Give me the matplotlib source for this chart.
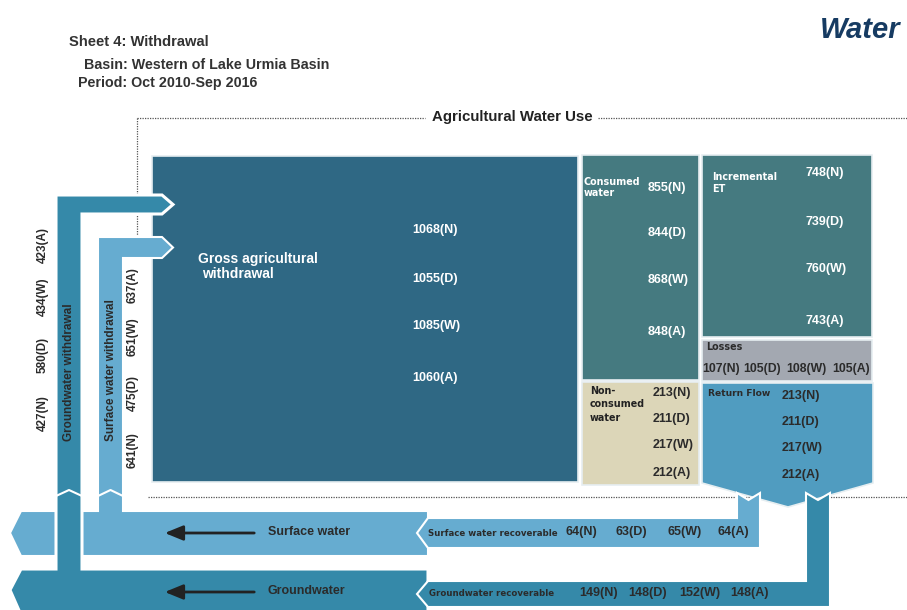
import matplotlib.pyplot as plt
from matplotlib.patches import Polygon, Rectangle

# values per scenario, read from the sheet
scenarios = ['N', 'D', 'W', 'A']
gross_withdrawal = [1068, 1055, 1085, 1060]
groundwater_withdrawal = [427, 580, 434, 423]
surface_withdrawal = [641, 475, 651, 637]
consumed_water = [855, 844, 868, 848]
incremental_et = [748, 739, 760, 743]
losses = [107, 105, 108, 105]
non_consumed_water = [213, 211, 217, 212]
return_flow = [213, 211, 217, 212]
sw_recoverable = [64, 63, 65, 64]
gw_recoverable = [149, 148, 152, 148]

# colours
C_GROSS = '#2f6884'
C_CONS = '#457a80'
C_LOSS = '#a3a8b1'
C_NONC = '#dcd6b8'
C_RET = '#509cc0'
C_SW = '#66acd0'
C_GW = '#3589a9'
C_TXT = '#2b2b2b'
EDGE = '#e6eef1'

FONT = 'Liberation Sans'
SMALL = 'DejaVu Sans'


def labels(vals):
    return [f'{v}({s})' for v, s in zip(vals, scenarios)]


fig = plt.figure(figsize=(9.07, 6.10), dpi=100)
ax = fig.add_axes([0, 0, 1, 1])
ax.set_xlim(0, 907)
ax.set_ylim(610, 0)
ax.axis('off')


def poly(pts, fc, ec='white', lw=1.5, z=2):
    ax.add_patch(Polygon(pts, closed=True, fc=fc, ec=ec, lw=lw, zorder=z,
                         joinstyle='miter'))


def box(x0, y0, x1, y1, fc, z=2):
    ax.add_patch(Rectangle((x0, y0), x1 - x0, y1 - y0, fc=fc, ec=EDGE,
                           lw=1.2, zorder=z))


def txt(x, y, s, size=9, color='white', fam=FONT, **kw):
    ax.text(x, y, s, fontsize=size, color=color, family=fam,
            fontweight='bold', va='center', ha='left', zorder=10, **kw)


# header
txt(69, 42, 'Sheet 4: Withdrawal', 10.6, '#333333')
txt(84, 65, 'Basin: Western of Lake Urmia Basin', 10.3, '#333333')
txt(78, 83, 'Period: Oct 2010-Sep 2016', 10.3, '#333333')
ax.text(820, 30, 'Water', fontsize=21, color='#163b62', family=FONT,
        fontweight='bold', style='italic', va='center', ha='left')

# dotted frame lines
dot = dict(color='#555555', lw=0.9, ls=(0, (1, 1)), zorder=1)
ax.plot([137, 425], [118, 118], **dot)
ax.plot([598, 907], [118, 118], **dot)
ax.plot([137, 137], [118, 237], **dot)
ax.plot([148, 907], [497, 497], **dot)
txt(432, 117, 'Agricultural Water Use', 10.8, '#222222')

# surface water band + withdrawal branch
poly([(10, 533), (21, 511), (98, 511), (98, 237), (162, 237), (173, 247.5),
      (162, 258), (123, 258), (123, 511), (428, 511), (428, 556),
      (21, 556)], C_SW, z=2)
# groundwater band + withdrawal branch
poly([(10, 590), (21, 569), (56, 569), (56, 195), (162, 195), (173, 204.5),
      (162, 214), (82, 214), (82, 569), (428, 569), (428, 615),
      (21, 615)], C_GW, lw=2.2, z=3)
for xl, xr in [(56, 82), (98, 123)]:
    ax.plot([xl, (xl + xr) / 2, xr], [496, 490, 496], color='white', lw=1.5,
            zorder=4)

# main agricultural boxes
box(152, 156, 578, 482, C_GROSS, z=1.5)
box(582, 155, 699, 380, C_CONS)
box(702, 155, 872, 337, C_CONS)
box(702, 340, 872, 381, C_LOSS)
box(582, 382, 699, 485, C_NONC)
poly([(702, 383), (873, 383), (873, 483), (788, 507), (702, 483)], C_RET,
     ec=EDGE, lw=1.2, z=2)

# recoverable return flows
poly([(417, 533), (428, 518), (737, 518), (737, 493), (748.5, 500),
      (760, 493), (760, 548), (428, 548)], C_SW, z=4)
poly([(417, 594), (428, 581), (806, 581), (806, 493), (818, 500),
      (830, 493), (830, 607), (428, 607)], C_GW, z=4)

# flow arrows on bands
for y in (533, 592):
    ax.annotate('', xy=(162, y), xytext=(257, y), zorder=6,
                arrowprops=dict(arrowstyle='-|>,head_length=1.1,head_width=0.45',
                                color='#222222', lw=2))
txt(268, 532, 'Surface water', 9, C_TXT)
txt(268, 591, 'Groundwater', 9, C_TXT)

# withdrawal branches
ax.text(69, 372, 'Groundwater withdrawal', fontsize=8.5, color=C_TXT,
        family=FONT, fontweight='bold', rotation=90, ha='center',
        va='center', zorder=10)
ax.text(110.5, 370, 'Surface water withdrawal', fontsize=8.5, color=C_TXT,
        family=FONT, fontweight='bold', rotation=90, ha='center',
        va='center', zorder=10)
for y, s in zip([413, 355, 297, 245], labels(groundwater_withdrawal)):
    ax.text(43, y, s, fontsize=8.5, color=C_TXT, family=FONT,
            fontweight='bold', rotation=90, ha='center', va='center')
for y, s in zip([450, 393, 337, 285], labels(surface_withdrawal)):
    ax.text(133, y, s, fontsize=8.5, color=C_TXT, family=FONT,
            fontweight='bold', rotation=90, ha='center', va='center')

# gross withdrawal
txt(198, 259, 'Gross agricultural', 10)
txt(202, 274, 'withdrawal', 10)
for y, s in zip([230, 279, 326, 378], labels(gross_withdrawal)):
    txt(412, y, s, 9)

# consumed water
txt(584, 182, 'Consumed', 6.9, fam=SMALL)
txt(584, 193, 'water', 6.9, fam=SMALL)
for y, s in zip([188, 233, 280, 332], labels(consumed_water)):
    txt(648, y, s, 9)

# incremental ET
txt(712, 177, 'Incremental', 6.9, fam=SMALL)
txt(712, 189, 'ET', 6.9, fam=SMALL)
for y, s in zip([173, 222, 269, 321], labels(incremental_et)):
    txt(806, y, s, 9)

# losses
txt(706, 347, 'Losses', 6.9, C_TXT, fam=SMALL)
for x, s in zip([702, 743, 786, 832], labels(losses)):
    txt(x, 369, s, 8.8, C_TXT)

# non-consumed water
txt(590, 391, 'Non-', 6.9, '#222222', fam=SMALL)
txt(590, 404, 'consumed', 6.9, '#222222', fam=SMALL)
txt(590, 418, 'water', 6.9, '#222222', fam=SMALL)
for y, s in zip([393, 419, 445, 473], labels(non_consumed_water)):
    txt(653, y, s, 9, C_TXT)

# return flow
txt(708, 393, 'Return Flow', 6.6, C_TXT, fam=SMALL)
for y, s in zip([396, 422, 448, 475], labels(return_flow)):
    txt(782, y, s, 9, C_TXT)

# recoverable
txt(428, 533, 'Surface water recoverable', 6.2, C_TXT, fam=SMALL)
for x, s in zip([566, 615, 667, 717], labels(sw_recoverable)):
    txt(x, 532, s, 9, C_TXT)
txt(429, 594, 'Groundwater recoverable', 6.2, C_TXT, fam=SMALL)
for x, s in zip([579, 628, 679, 730], labels(gw_recoverable)):
    txt(x, 593, s, 9, C_TXT)

fig.savefig('out.png', dpi=100)
